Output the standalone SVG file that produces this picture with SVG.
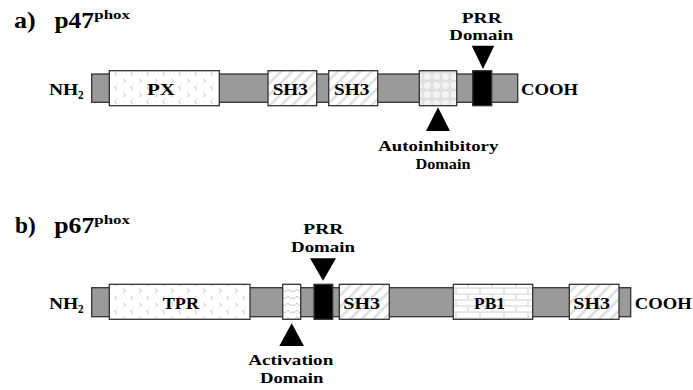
<svg xmlns="http://www.w3.org/2000/svg" width="693" height="390" viewBox="0 0 693 390">
<style>
text{font-family:"Liberation Serif","Times New Roman",Times,serif;font-weight:bold;fill:#000}
.t{font-size:23px}
.s{font-size:13px}
.l{font-size:17px}
.m{font-size:15.5px}
.sub{font-size:12px}
.bb{fill:#9a9a9a;stroke:#333;stroke-width:1.3}
.box{stroke:#333;stroke-width:1.3}
.tri{fill:#000}
</style>
<defs>
<pattern id="pPX" width="16" height="14" patternUnits="userSpaceOnUse">
<rect width="16" height="14" fill="#fff"/>
<path d="M5 1.5 L2.5 3.8 L5 6 M11 8.5 L13.5 10.8 L11 13" stroke="#c8c8c8" stroke-width="1" fill="none"/>
</pattern>
<pattern id="pSH3" width="8" height="8" patternUnits="userSpaceOnUse" patternTransform="rotate(45)">
<rect width="8" height="8" fill="#fff"/>
<rect width="2.5" height="8" fill="#dedede"/>
</pattern>
<pattern id="pAI" width="9" height="9" patternUnits="userSpaceOnUse">
<rect width="9" height="9" fill="#e0e0e0"/>
<circle cx="4.5" cy="4.5" r="3.6" fill="#f3f3f3"/>
</pattern>
<pattern id="pACT" width="9" height="7" patternUnits="userSpaceOnUse">
<rect width="9" height="7" fill="#fff"/>
<path d="M0 2 Q2.25 6 4.5 4 Q6.75 6 9 2" stroke="#c8c8c8" stroke-width="1" fill="none"/>
</pattern>
<pattern id="pPB1" width="24" height="12" patternUnits="userSpaceOnUse">
<rect width="24" height="12" fill="#e4e4e4"/>
<rect x="1" y="1" width="22" height="4.2" fill="#fff"/>
<rect x="-11" y="7" width="22" height="4.2" fill="#fff"/>
<rect x="13" y="7" width="22" height="4.2" fill="#fff"/>
</pattern>
</defs>

<g id="title-a">
<text class="t" x="14" y="28" textLength="21.7" lengthAdjust="spacingAndGlyphs">a)</text>
<text class="t" x="54.5" y="28" textLength="39.5" lengthAdjust="spacingAndGlyphs">p47</text>
<text class="s" x="94.3" y="18.5" textLength="35.7" lengthAdjust="spacingAndGlyphs">phox</text>
</g>

<g id="p47-backbone">
<rect class="bb" x="91.7" y="74" width="426" height="28.3"/>
<text class="l" x="49" y="95" textLength="29.3" lengthAdjust="spacingAndGlyphs">NH</text>
<text class="sub" x="78" y="99" textLength="5.6" lengthAdjust="spacingAndGlyphs">2</text>
<text class="l" x="521" y="95" textLength="57" lengthAdjust="spacingAndGlyphs">COOH</text>
</g>
<g id="p47-PX">
<rect class="box" x="109.3" y="70.7" width="110" height="35" fill="url(#pPX)"/>
<text class="l" x="147" y="95" textLength="28" lengthAdjust="spacingAndGlyphs">PX</text>
</g>
<g id="p47-SH3a">
<rect class="box" x="268" y="70.7" width="48.7" height="35" fill="url(#pSH3)"/>
<text class="l" x="272.7" y="94.5" textLength="35" lengthAdjust="spacingAndGlyphs">SH3</text>
</g>
<g id="p47-SH3b">
<rect class="box" x="328.7" y="70.7" width="49" height="35" fill="url(#pSH3)"/>
<text class="l" x="334" y="94.5" textLength="35.3" lengthAdjust="spacingAndGlyphs">SH3</text>
</g>
<g id="p47-AI">
<rect class="box" x="419.3" y="70.7" width="37.4" height="35" fill="url(#pAI)"/>
</g>
<g id="p47-PRR">
<rect class="box" x="472.7" y="70.7" width="19" height="35" fill="#000"/>
</g>
<g id="p47-PRR-label">
<path class="tri" d="M471.7 45.7 L494.3 45.7 L483 69 Z"/>
<text class="m" x="461.7" y="22.7" textLength="40" lengthAdjust="spacingAndGlyphs">PRR</text>
<text class="m" x="449.3" y="40" textLength="64" lengthAdjust="spacingAndGlyphs">Domain</text>
</g>
<g id="p47-AI-label">
<path class="tri" d="M426 131 L450 131 L438 107.3 Z"/>
<text class="m" x="378.3" y="151" textLength="120" lengthAdjust="spacingAndGlyphs">Autoinhibitory</text>
<text class="m" x="415.5" y="168.5" textLength="55" lengthAdjust="spacingAndGlyphs">Domain</text>
</g>

<g id="title-b">
<text class="t" x="15" y="233" textLength="20.7" lengthAdjust="spacingAndGlyphs">b)</text>
<text class="t" x="54.3" y="233" textLength="40" lengthAdjust="spacingAndGlyphs">p67</text>
<text class="s" x="94.3" y="224" textLength="35.7" lengthAdjust="spacingAndGlyphs">phox</text>
</g>

<g id="p67-backbone">
<rect class="bb" x="91.7" y="287.7" width="539" height="29"/>
<text class="l" x="49" y="309" textLength="29.3" lengthAdjust="spacingAndGlyphs">NH</text>
<text class="sub" x="78" y="313" textLength="5.6" lengthAdjust="spacingAndGlyphs">2</text>
<text class="l" x="634.7" y="309" textLength="57" lengthAdjust="spacingAndGlyphs">COOH</text>
</g>
<g id="p67-TPR">
<rect class="box" x="109.3" y="284.3" width="140.7" height="35" fill="url(#pPX)"/>
<text class="l" x="162.7" y="308.5" textLength="36.3" lengthAdjust="spacingAndGlyphs">TPR</text>
</g>
<g id="p67-ACT">
<rect class="box" x="282.7" y="284.3" width="18" height="35" fill="url(#pACT)"/>
</g>
<g id="p67-PRR">
<rect class="box" x="314" y="284.3" width="18.7" height="35" fill="#000"/>
</g>
<g id="p67-SH3a">
<rect class="box" x="339.3" y="284.3" width="50" height="35" fill="url(#pSH3)"/>
<text class="l" x="343.3" y="308.5" textLength="36.7" lengthAdjust="spacingAndGlyphs">SH3</text>
</g>
<g id="p67-PB1">
<rect class="box" x="453.3" y="284.3" width="79.4" height="35" fill="url(#pPB1)"/>
<text class="l" x="474" y="308.5" textLength="31" lengthAdjust="spacingAndGlyphs">PB1</text>
</g>
<g id="p67-SH3b">
<rect class="box" x="569.3" y="284.3" width="49.7" height="35" fill="url(#pSH3)"/>
<text class="l" x="573.3" y="308.5" textLength="36.7" lengthAdjust="spacingAndGlyphs">SH3</text>
</g>
<g id="p67-PRR-label">
<path class="tri" d="M310 258.3 L336 258.3 L323 280.7 Z"/>
<text class="m" x="303.3" y="234.3" textLength="40" lengthAdjust="spacingAndGlyphs">PRR</text>
<text class="m" x="291" y="251.7" textLength="64" lengthAdjust="spacingAndGlyphs">Domain</text>
</g>
<g id="p67-ACT-label">
<path class="tri" d="M279.3 346 L304 346 L291.7 323.3 Z"/>
<text class="m" x="248.3" y="365" textLength="85" lengthAdjust="spacingAndGlyphs">Activation</text>
<text class="m" x="260" y="383" textLength="63.3" lengthAdjust="spacingAndGlyphs">Domain</text>
</g>
<g id="connectors"></g>
</svg>
